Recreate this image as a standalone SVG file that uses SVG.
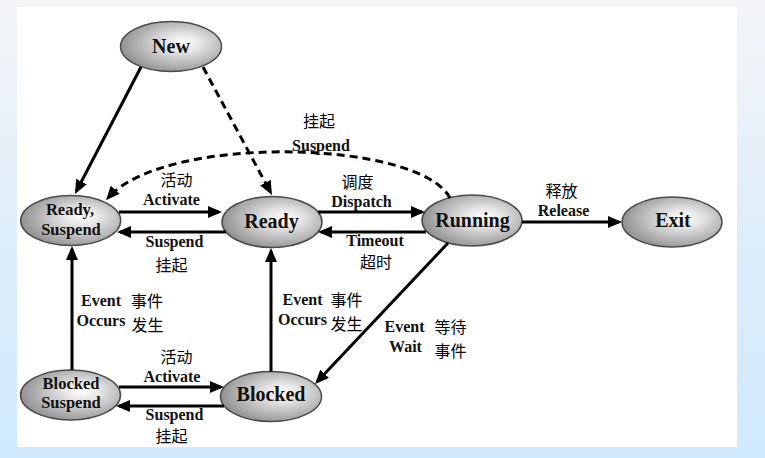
<svg xmlns="http://www.w3.org/2000/svg" width="765" height="458" viewBox="0 0 765 458">
<defs>
<linearGradient id="bg" x1="0" y1="0" x2="0" y2="1">
<stop offset="0" stop-color="#f4f5f7"/>
<stop offset="0.55" stop-color="#dcedfa"/>
<stop offset="1" stop-color="#cfe9fd"/>
</linearGradient>
<radialGradient id="nodeFill" cx="0.6" cy="0.45" r="0.62" fx="0.62" fy="0.42">
<stop offset="0" stop-color="#ffffff"/>
<stop offset="0.3" stop-color="#e4e4e4"/>
<stop offset="1" stop-color="#8e8e8e"/>
</radialGradient>
<marker id="arrow" markerUnits="userSpaceOnUse" markerWidth="14" markerHeight="12" refX="11" refY="6" orient="auto">
<path d="M0,0 L14,6 L0,12 z" fill="#000"/>
</marker>
</defs>
<style>
.node ellipse { fill: url(#nodeFill); stroke: #4a4a4a; stroke-width: 1.5; }
.nl { font-family: "Liberation Serif", "Times New Roman", serif; font-weight: bold; fill: #111; text-anchor: middle; }
.big { font-size: 20px; }
.small { font-size: 16.5px; }
.edge { fill: none; stroke: #000; stroke-width: 3; marker-end: url(#arrow); }
.dash { stroke-dasharray: 8 5; }
.lbl { text-anchor: middle; fill: #111; }
.el { font-family: "Liberation Serif", "Times New Roman", serif; font-weight: bold; font-size: 16px; }
.cj { font-family: "Noto Sans CJK SC", "Noto Sans CJK TC", sans-serif; font-weight: 400; font-size: 16px; fill: #000; }
</style>
<rect x="0" y="0" width="765" height="458" fill="url(#bg)"/>
<rect x="17" y="7" width="720" height="440" fill="#ffffff"/>

<g id="node-new" class="node">
<ellipse cx="171" cy="46.5" rx="50.5" ry="25"/>
<text class="nl big" x="171" y="53">New</text>
</g>
<g id="node-ready-suspend" class="node">
<ellipse cx="70.7" cy="220.5" rx="50" ry="25"/>
<text class="nl small" x="70" y="215">Ready,<tspan x="71" y="235">Suspend</tspan></text>
</g>
<g id="node-ready" class="node">
<ellipse cx="272" cy="222" rx="50" ry="25.5"/>
<text class="nl big" x="271.5" y="228">Ready</text>
</g>
<g id="node-running" class="node">
<ellipse cx="472" cy="220.5" rx="50" ry="25.5"/>
<text class="nl big" x="472.5" y="227">Running</text>
</g>
<g id="node-exit" class="node">
<ellipse cx="672" cy="222" rx="50" ry="25"/>
<text class="nl big" x="673" y="227">Exit</text>
</g>
<g id="node-blocked-suspend" class="node">
<ellipse cx="70.5" cy="395" rx="50" ry="25"/>
<text class="nl small" x="71" y="389">Blocked<tspan x="71" y="408">Suspend</tspan></text>
</g>
<g id="node-blocked" class="node">
<ellipse cx="271" cy="396.5" rx="50.5" ry="25"/>
<text class="nl big" x="271" y="401">Blocked</text>
</g>

<g id="connectors">
<path class="edge" d="M141,67 L76.4,191.3"/>
<path class="edge dash" d="M203,67 L270.6,192.4"/>
<path class="edge dash" d="M450,198 C420,140 165,133 108,198"/>
<path class="edge" d="M119,212 H219"/>
<path class="edge" d="M226,232 H120"/>
<path class="edge" d="M318,212 H422"/>
<path class="edge" d="M426,232 H321"/>
<path class="edge" d="M522,222 H619"/>
<path class="edge" d="M72,370 V249"/>
<path class="edge" d="M271,371.5 V251"/>
<path class="edge" d="M448,243 L317.1,381.8"/>
<path class="edge" d="M119,387 H221"/>
<path class="edge" d="M224,406 H119"/>
</g>

<g id="labels">
<text class="lbl"><tspan class="cj" x="319" y="127">挂起</tspan><tspan class="el" x="321" y="151">Suspend</tspan></text>
<text class="lbl"><tspan class="cj" x="176.5" y="186">活动</tspan><tspan class="el" x="171.5" y="205">Activate</tspan></text>
<text class="lbl"><tspan class="cj" x="357.5" y="188">调度</tspan><tspan class="el" x="361.5" y="207">Dispatch</tspan></text>
<text class="lbl"><tspan class="cj" x="561.5" y="196.5">释放</tspan><tspan class="el" x="563.5" y="216">Release</tspan></text>
<text class="lbl"><tspan class="el" x="174.5" y="247">Suspend</tspan><tspan class="cj" x="171.5" y="271">挂起</tspan></text>
<text class="lbl"><tspan class="el" x="375" y="245.5">Timeout</tspan><tspan class="cj" x="376" y="268">超时</tspan></text>
<text class="lbl"><tspan class="el" x="101" y="306">Event</tspan><tspan class="cj" x="147" y="306.5">事件</tspan><tspan class="el" x="101" y="326">Occurs</tspan><tspan class="cj" x="147.5" y="330.5">发生</tspan></text>
<text class="lbl"><tspan class="el" x="302.5" y="305">Event</tspan><tspan class="cj" x="346.5" y="306">事件</tspan><tspan class="el" x="302.5" y="325">Occurs</tspan><tspan class="cj" x="346.5" y="330">发生</tspan></text>
<text class="lbl"><tspan class="el" x="404.5" y="332">Event</tspan><tspan class="cj" x="450.5" y="333">等待</tspan><tspan class="el" x="405.5" y="352">Wait</tspan><tspan class="cj" x="450.5" y="356.5">事件</tspan></text>
<text class="lbl"><tspan class="cj" x="176.5" y="363">活动</tspan><tspan class="el" x="172" y="382">Activate</tspan></text>
<text class="lbl"><tspan class="el" x="174.5" y="420">Suspend</tspan><tspan class="cj" x="171.5" y="442">挂起</tspan></text>
</g>
</svg>
